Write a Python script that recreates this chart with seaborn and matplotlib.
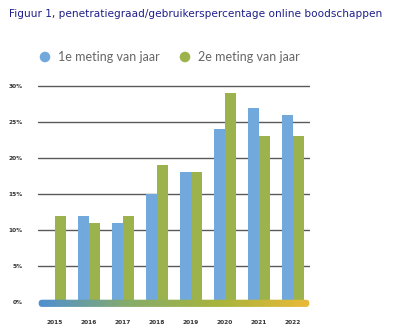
import numpy as np
import pandas as pd
import matplotlib
matplotlib.use("Agg")
import matplotlib.pyplot as plt
from matplotlib.colors import LinearSegmentedColormap
from matplotlib.patches import FancyBboxPatch, Ellipse
import seaborn as sns

years = ["2015", "2016", "2017", "2018", "2019", "2020", "2021", "2022"]
meting1 = [0, 12, 11, 15, 18, 24, 27, 26]
meting2 = [12, 11, 12, 19, 18, 29, 23, 23]
series_names = ["1e meting van jaar", "2e meting van jaar"]
yticks = [0, 5, 10, 15, 20, 25, 30]
ytick_labels = ["0%", "5%", "10%", "15%", "20%", "25%", "30%"]
title = "Figuur 1, penetratiegraad/gebruikerspercentage online boodschappen"

BLUE = "#72a9dc"
GREEN = "#9cb24c"

df = pd.DataFrame({
    "jaar": years * 2,
    "waarde": meting1 + meting2,
    "meting": [series_names[0]] * len(years) + [series_names[1]] * len(years),
})

sns.set_theme(style="white")
plt.rcParams["font.family"] = ["DejaVu Sans"]

W, H = 411, 332
fig = plt.figure(figsize=(W / 100, H / 100), dpi=100)
fig.patch.set_facecolor("white")

ax_left, ax_right = 38, 310
ax_top, ax_bottom = 84, 310
ax = fig.add_axes([ax_left / W, 1 - ax_bottom / H, (ax_right - ax_left) / W, (ax_bottom - ax_top) / H])

sns.barplot(data=df, x="jaar", y="waarde", hue="meting", palette=[BLUE, GREEN],
            width=0.65, ax=ax, legend=False, saturation=1, zorder=3)
for p in ax.patches:
    p.set_edgecolor("none")

for v in yticks[1:]:
    ax.axhline(v, color="#5a5a5a", lw=1.0, zorder=1)

# gradient baseline
cmap = LinearSegmentedColormap.from_list("base", ["#4f8fd2", "#86ac6a", "#a8b43c", "#ebba38"])
grad = np.linspace(0, 1, 256).reshape(1, -1)
y0, y1 = -0.68, 0.32
im = ax.imshow(grad, cmap=cmap, aspect="auto", extent=(-0.5, 7.5, y0, y1), zorder=4)
clip = FancyBboxPatch((-0.48, y0), 7.96, y1 - y0,
                      boxstyle="round,pad=0,rounding_size=0.1", mutation_aspect=4.7,
                      transform=ax.transData, facecolor="none", edgecolor="none")
ax.add_patch(clip)
im.set_clip_path(clip)
ax.set_xlim(-0.5, 7.5)
ax.set_ylim(-1.11, 30.28)

ax.set_yticks(yticks)
ax.set_yticklabels(ytick_labels)
ax.tick_params(axis="y", length=0, pad=11, labelsize=4.2, labelcolor="#333333")
ax.tick_params(axis="x", length=0, pad=7, labelsize=4.2, labelcolor="#333333")
for lab in ax.get_yticklabels() + ax.get_xticklabels():
    lab.set_fontweight("bold")
ax.set_xlabel("")
ax.set_ylabel("")
for s in ax.spines.values():
    s.set_visible(False)

fig.text(9 / W, 1 - 14 / H, title, color="#1f1f8a", fontsize=7.6, va="center", ha="left")

for cx, col, txt in [(45, BLUE, series_names[0]), (185, GREEN, series_names[1])]:
    fig.add_artist(Ellipse((cx / W, 1 - 57 / H), 10.6 / W, 10.6 / H, transform=fig.transFigure,
                           facecolor=col, edgecolor="none"))
    fig.text((cx + 13) / W, 1 - 57 / H, txt, color="#666666", fontsize=9.0,
             va="center", ha="left", family=["Lato", "DejaVu Sans"])

fig.savefig("out.png", dpi=100, facecolor="white")
